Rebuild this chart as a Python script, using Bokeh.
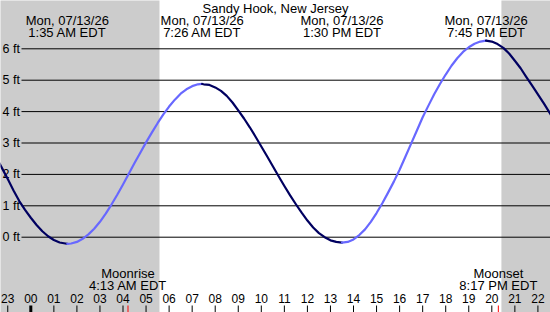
import numpy as np
from bokeh.plotting import figure
from bokeh.models import Range1d
from bokeh.core.properties import value
from bokeh.embed import file_html
from bokeh.resources import INLINE

# ---------------- data ----------------
station = "Sandy Hook, New Jersey"

# hours after local midnight (Mon 07/13/26), tide height in feet
tide_hours = [-1.5, -1.25, -1.0, -0.75, -0.5, -0.25, 0.0, 0.25, 0.5, 0.75, 1.0, 1.25, 1.5,
              1.583, 1.75, 2.0, 2.25, 2.5, 2.75, 3.0, 3.25, 3.5, 3.75, 4.0, 4.25, 4.5,
              4.75, 5.0, 5.25, 5.5, 5.75, 6.0, 6.25, 6.5, 6.75, 7.0, 7.25, 7.433,
              7.5, 7.75, 8.0, 8.25, 8.5, 8.75, 9.0, 9.25, 9.5, 9.75, 10.0, 10.25, 10.5,
              10.75, 11.0, 11.25, 11.5, 11.75, 12.0, 12.25, 12.5, 12.75, 13.0, 13.25, 13.5,
              13.75, 14.0, 14.25, 14.5, 14.75, 15.0, 15.25, 15.5, 15.75, 16.0, 16.25, 16.5,
              16.75, 17.0, 17.25, 17.5, 17.75, 18.0, 18.25, 18.5, 18.75, 19.0, 19.25, 19.5,
              19.75, 20.0, 20.25, 20.5, 20.75, 21.0, 21.25, 21.5, 21.75, 22.0, 22.25, 22.5,
              22.75, 23.0]
tide_ft = [2.55, 2.20, 1.85, 1.49, 1.15, 0.87, 0.62, 0.39, 0.19, 0.03, -0.09, -0.17, -0.20,
           -0.21, -0.20, -0.15, -0.05, 0.09, 0.27, 0.49, 0.75, 1.04, 1.35, 1.68, 2.02, 2.36,
           2.69, 3.02, 3.33, 3.63, 3.91, 4.16, 4.38, 4.57, 4.71, 4.81, 4.87, 4.88,
           4.87, 4.85, 4.77, 4.66, 4.50, 4.29, 4.04, 3.78, 3.50, 3.20, 2.89, 2.58, 2.26,
           1.94, 1.63, 1.33, 1.05, 0.78, 0.53, 0.31, 0.13, 0.00, -0.10, -0.15, -0.17,
           -0.15, -0.07, 0.07, 0.25, 0.49, 0.77, 1.08, 1.42, 1.77, 2.15, 2.56, 2.98,
           3.40, 3.82, 4.19, 4.55, 4.88, 5.18, 5.46, 5.70, 5.90, 6.05, 6.16, 6.23,
           6.26, 6.23, 6.15, 6.03, 5.85, 5.62, 5.38, 5.10, 4.83, 4.55, 4.27, 3.97,
           3.67, 3.35]

extreme_hours = [1.583, 7.433, 13.5, 19.75]
extreme_dates = ["Mon, 07/13/26", "Mon, 07/13/26", "Mon, 07/13/26", "Mon, 07/13/26"]
extreme_times = ["1:35 AM EDT", "7:26 AM EDT", "1:30 PM EDT", "7:45 PM EDT"]

sunrise_hour = 5.583
sunset_hour = 20.417

moon_hours = [4.217, 20.283]
moon_events = ["Moonrise", "Moonset"]
moon_times = ["4:13 AM EDT", "8:17 PM EDT"]

hour_ticks = list(range(-1, 23))
hour_labels = ["23", "00", "01", "02", "03", "04", "05", "06", "07", "08", "09", "10",
               "11", "12", "13", "14", "15", "16", "17", "18", "19", "20", "21", "22"]

ft_levels = [0, 1, 2, 3, 4, 5, 6]
ft_labels = ["0 ft", "1 ft", "2 ft", "3 ft", "4 ft", "5 ft", "6 ft"]

# ---------------- geometry ----------------
W, H = 550, 312
PX_PER_HOUR = 23.05
PX_PER_FT = 31.4
x_start = -1.315
x_end = x_start + W / PX_PER_HOUR
zero_ft_px = 236.7
y_top = zero_ft_px / PX_PER_FT
y_bot = y_top - H / PX_PER_FT
TXT_SHIFT = 4.5  # renderer places baseline a bit low


def ypx(pix):
    return y_top - pix / PX_PER_FT


def ytxt(pix):
    return ypx(pix - TXT_SHIFT)


def xpx(pix):
    return x_start + pix / PX_PER_HOUR


FONT = value("Liberation Sans")
LIGHT = "#6868ff"
DARK = "#000060"

p = figure(width=W, height=H, x_range=Range1d(x_start, x_end), y_range=Range1d(y_bot, y_top),
           x_axis_type=None, y_axis_type=None, toolbar_location=None,
           output_backend="svg", min_border=0)
p.grid.visible = False
p.outline_line_color = None
p.background_fill_color = "white"
p.border_fill_color = "white"

# night shading
p.quad(left=[x_start - 1, sunset_hour], right=[sunrise_hour, x_end + 1],
       bottom=y_bot - 1, top=y_top + 1, fill_color="#cccccc", line_color=None)

# grid lines
p.segment(x0=xpx(21), x1=x_end + 1, y0=ft_levels, y1=ft_levels, line_color="black", line_width=1)
p.text(x=xpx(2), y=[lv - (4.5 - TXT_SHIFT) / PX_PER_FT for lv in ft_levels], text=ft_labels,
       text_font=FONT, text_font_size="12.5px", text_align="left",
       text_baseline="alphabetic", text_color="black")

# tide curve: rising light, falling dark
t = np.array(tide_hours)
h = np.array(tide_ft)
d = np.sign(np.diff(h))
breaks = [0] + [i for i in range(1, len(d)) if d[i] != d[i - 1]] + [len(h) - 1]
for b0, b1 in zip(breaks[:-1], breaks[1:]):
    col = LIGHT if h[b1] > h[b0] else DARK
    p.line(t[b0:b1 + 1], h[b0:b1 + 1], line_color=col, line_width=2.2,
           line_join="round", line_cap="round")

# title and extreme labels
p.text(x=[xpx(W / 2)], y=[ytxt(12)], text=[station], text_font=FONT, text_font_size="13px",
       text_align="center", text_baseline="alphabetic", text_color="black")
p.text(x=extreme_hours, y=ytxt(24), text=extreme_dates, text_font=FONT, text_font_size="13px",
       text_align="center", text_baseline="alphabetic", text_color="black")
p.text(x=extreme_hours, y=ytxt(36), text=extreme_times, text_font=FONT, text_font_size="13px",
       text_align="center", text_baseline="alphabetic", text_color="black")

# moon labels
p.text(x=moon_hours, y=ytxt(277.5), text=moon_events, text_font=FONT, text_font_size="13px",
       text_align="center", text_baseline="alphabetic", text_color="black")
p.text(x=moon_hours, y=ytxt(289.5), text=moon_times, text_font=FONT, text_font_size="13px",
       text_align="center", text_baseline="alphabetic", text_color="black")

# hour labels and ticks
p.text(x=hour_ticks, y=ytxt(302), text=hour_labels, text_font=FONT, text_font_size="12px",
       text_align="center", text_baseline="alphabetic", text_color="black")
normal = [hh for hh in hour_ticks if hh % 24 != 0]
midnight = [hh for hh in hour_ticks if hh % 24 == 0]
p.segment(x0=normal, x1=normal, y0=ypx(305), y1=y_bot - 1, line_color="black", line_width=1)
p.segment(x0=midnight, x1=midnight, y0=ypx(305), y1=y_bot - 1, line_color="black", line_width=3)
p.segment(x0=moon_hours, x1=moon_hours, y0=ypx(305), y1=y_bot - 1, line_color="red", line_width=1)

open("out.html", "w").write(file_html(p, INLINE))
